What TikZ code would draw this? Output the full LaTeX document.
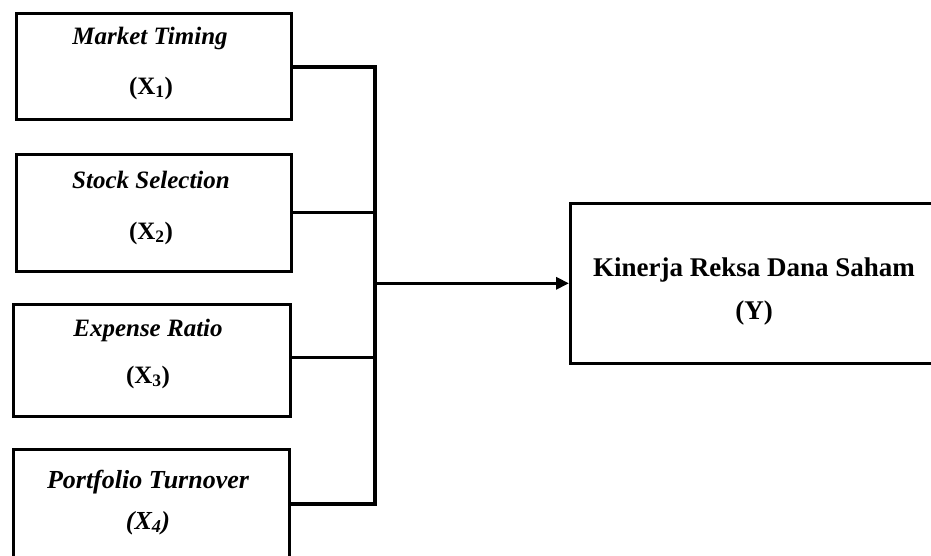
\documentclass[tikz,border=0pt]{standalone}
\usepackage{fontspec}
\setmainfont{Liberation Serif}
\usetikzlibrary{arrows.meta}
\begin{document}
\begin{tikzpicture}[x=1pt,y=-1pt,
  box/.style={draw=black, line width=2.6pt, rectangle, inner sep=0pt, anchor=north west},
  wire/.style={draw=black, line width=3.2pt},
  lbl/.style={inner sep=0pt, font=\fontsize{25}{28}\selectfont\bfseries\itshape},
  sym/.style={inner sep=0pt, font=\fontsize{25}{28}\selectfont\bfseries}]
\useasboundingbox (0,0) rectangle (931,556);
\clip (0,0) rectangle (931,556);
\node[box, minimum width=275pt, minimum height=106pt] (x1) at (15,12) {};
\node[box, minimum width=275pt, minimum height=117pt] (x2) at (15,153) {};
\node[box, minimum width=277pt, minimum height=112pt] (x3) at (12,303) {};
\node[box, minimum width=276pt, minimum height=140pt] (x4) at (12,448) {};
\node[box, minimum width=400pt, minimum height=160pt] (y) at (569,202) {};
\node[lbl] (t1) at (150,38) {Market Timing};
\node[sym] (s1) at (151,88) {(X\textsubscript{1})};
\node[lbl] (t2) at (151,180) {Stock Selection};
\node[sym] (s2) at (151,233) {(X\textsubscript{2})};
\node[lbl] (t3) at (148,330) {Expense Ratio};
\node[sym] (s3) at (148,377) {(X\textsubscript{3})};
\node[lbl, font=\fontsize{26}{28}\selectfont\bfseries\itshape] (t4) at (148,482) {Portfolio Turnover};
\node[lbl, font=\fontsize{26}{28}\selectfont\bfseries\itshape] (s4) at (148,523) {(X\textsubscript{4})};
\node[sym, font=\fontsize{27}{30}\selectfont\bfseries] (ty) at (754,270) {Kinerja Reksa Dana Saham};
\node[sym, font=\fontsize{27}{30}\selectfont\bfseries] (sy) at (754,313) {(Y)};
\coordinate (bt) at (375,67);
\coordinate (bb) at (375,504);
\coordinate (c3) at ([yshift=3pt]x3.east);
\draw[wire] (x1.east |- bt) -- (bt) -- (bb) -- (x4.east |- bb)
  (x2.east) -- (x2.east -| bt)
  (c3) -- (c3 -| bt);
\draw[wire, -{Triangle[length=13pt,width=12pt]}] (bt |- y.west) -- (y.west);
\end{tikzpicture}
\end{document}
